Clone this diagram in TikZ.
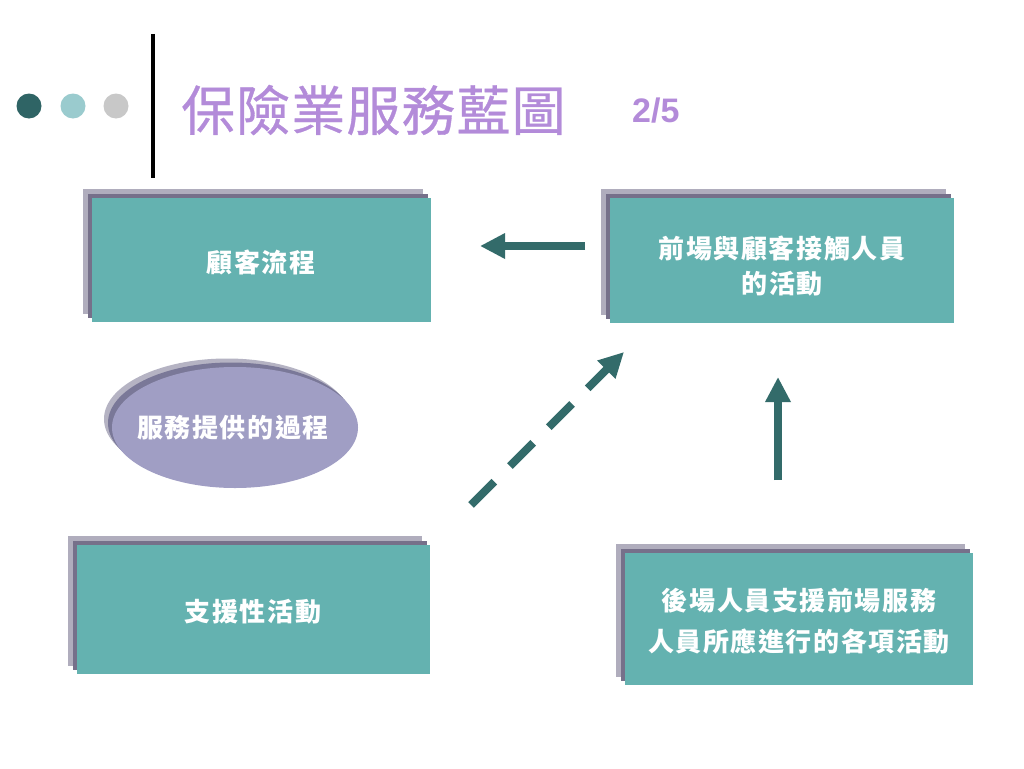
\documentclass[tikz,border=0pt]{standalone}
\usepackage{fontspec}
\usetikzlibrary{arrows.meta}
\newfontfamily\cjk[LetterSpace=6]{Noto Sans CJK TC}
\newfontfamily\cjktitle[LetterSpace=2,FakeBold=0.6]{Noto Sans CJK TC}
\newfontfamily\arialf{Liberation Sans}
\definecolor{teal1}{HTML}{64B2B0}
\definecolor{shdark}{HTML}{76708A}
\definecolor{shlight}{HTML}{B0ADBD}
\definecolor{arrowc}{HTML}{336B6A}
\definecolor{ellc}{HTML}{A09EC4}
\definecolor{ellshd}{HTML}{7A7898}
\definecolor{ellshl}{HTML}{B5B3C3}
\definecolor{titlec}{HTML}{B38BD9}
\definecolor{dot1}{HTML}{2F6465}
\definecolor{dot2}{HTML}{9ACBCE}
\definecolor{dot3}{HTML}{C8C8C8}
\tikzset{
  tealbox/.style={fill=teal1, inner sep=0pt, text=white, align=center,
    font=\fontsize{26}{35}\cjk\bfseries},
  bigarrow/.style={draw=arrowc, line width=8pt, -{Triangle[width=24pt,length=25pt]}},
}
\begin{document}
\begin{tikzpicture}[x=1pt,y=-1pt]
\useasboundingbox[fill=white] (0,0) rectangle (1024,768);
% header
\fill[dot1] (29,106) circle (12.5);
\fill[dot2] (73,106) circle (12.5);
\fill[dot3] (116,106) circle (12.5);
\draw[line width=4pt, black] (153,34) -- (153,178);
\node[anchor=west, inner sep=0pt, text=titlec, font=\fontsize{54}{58}\cjktitle] (title) at (181,110) {保險業服務藍圖};
\node[anchor=west, inner sep=0pt, text=titlec, font=\fontsize{34}{36}\arialf\bfseries] (page) at (632,111) {2/5};
% boxes
\node[tealbox, minimum width=339pt, minimum height=124pt] (b1) at (261.5,260) {};
\node[tealbox, minimum width=344pt, minimum height=125pt] (b2) at (782,260.5) {};
\node[tealbox, minimum width=353pt, minimum height=129pt] (b3) at (253.5,609.5) {};
\node[tealbox, minimum width=348pt, minimum height=132pt] (b4) at (799,619) {};
\foreach \b in {b1,b2,b3,b4}{
  \fill[shlight] ([shift={(-9,-9)}]\b.north west) rectangle ([shift={(-8,-8)}]\b.south east);
  \fill[shdark] ([shift={(-4,-4)}]\b.north west) rectangle ([shift={(-3,-4)}]\b.south east);
  \fill[teal1] (\b.north west) rectangle (\b.south east);
}
\node[tealbox, fill=none] (t1) at (261,262) {顧客流程};
\node[tealbox, fill=none] (t2) at (782,266) {前場與顧客接觸人員\\的活動};
\node[tealbox, fill=none] (t3) at (253,612) {支援性活動};
\node[tealbox, fill=none, font=\fontsize{26}{41}\cjk\bfseries] (t4) at (799,621) {後場人員支援前場服務\\人員所應進行的各項活動};
% ellipse
\fill[ellshl] (227,419) ellipse (123 and 60.5);
\fill[ellshd] (231,423) ellipse (123 and 60.5);
\fill[ellc] (235,427.5) ellipse (123 and 60.5);
\node[tealbox, fill=none] (e) at (233,428) {服務提供的過程};
% arrows
\coordinate (a1s) at (585,246);
\coordinate (a1e) at (480,246);
\coordinate (a2s) at (778,480);
\coordinate (a2e) at (778,377);
\coordinate (a3s) at (471,505);
\coordinate (a3e) at (624,352);
\draw[bigarrow] (a1s) -- (a1e);
\draw[bigarrow] (a2s) -- (a2e);
\draw[bigarrow, dash pattern=on 33pt off 22pt] (a3s) -- (a3e);
\end{tikzpicture}
\end{document}
